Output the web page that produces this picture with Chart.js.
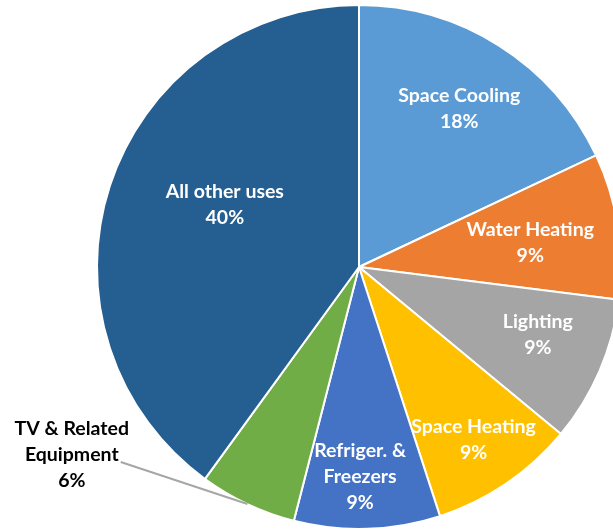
<!DOCTYPE html>
<html>
<head>
<meta charset="utf-8">
<script src="https://cdn.jsdelivr.net/npm/chart.js@4.4.0/dist/chart.umd.min.js"></script>
<style>
  html, body { margin: 0; padding: 0; background: #fff; overflow: hidden; width: 613px; height: 529px; }
  #pieChart { position: absolute; left: 0; top: 0; }
</style>
</head>
<body>
<canvas id="pieChart" width="718" height="534"></canvas>
<script>
// end uses, clockwise from 12 o'clock
const categories = [
  ['Space Cooling'],
  ['Water Heating'],
  ['Lighting'],
  ['Space Heating'],
  ['Refriger. &', 'Freezers'],
  ['TV & Related', 'Equipment'],
  ['All other uses']
]
const shares = [18, 9, 9, 9, 9, 6, 40]
const sliceColors = ['#5B9BD5', '#ED7D31', '#A5A5A5', '#FFC000', '#4472C4', '#70AD47', '#255E91']

// label spot per slice: fraction of radius, turn off the slice middle (deg), outside?
const labelSpots = [
  [0.714, 0, false],
  [0.66, 1, false],
  [0.73, -2.6, false],
  [0.79, 0.6, false],
  [0.80, 1.5, false],
  [1.31, 31.6, true],
  [0.565, 7, false]
]

const sliceLabels = {
  id: 'sliceLabels',
  afterDatasetsDraw(chart) {
    const ctx = chart.ctx
    const meta = chart.getDatasetMeta(0)
    ctx.save()
    ctx.font = 'bold 19.5px Lato'
    ctx.textAlign = 'center'
    ctx.textBaseline = 'middle'
    meta.data.forEach((arc, i) => {
      const p = arc.getProps(['x', 'y', 'startAngle', 'endAngle', 'outerRadius'], true)
      const mid = (p.startAngle + p.endAngle) / 2
      const [frac, turn, outside] = labelSpots[i]
      const a = mid + turn * Math.PI / 180
      const lx = p.x + Math.cos(a) * p.outerRadius * frac
      const ly = p.y + Math.sin(a) * p.outerRadius * frac
      const lines = categories[i].concat([shares[i] + '%'])
      const step = 26
      lines.forEach((t, k) => {
        ctx.fillStyle = outside ? '#000' : '#fff'
        ctx.fillText(t, lx, ly + (k - (lines.length - 1) / 2) * step)
      })
      if (outside) {
        // leader line from the end of the middle line to the slice edge
        const k = 1
        const w = ctx.measureText(lines[k]).width
        const sx = lx + w / 2 + 2
        const sy = ly + (k - (lines.length - 1) / 2) * step + 7
        const ex = p.x + Math.cos(mid) * p.outerRadius
        const ey = p.y + Math.sin(mid) * p.outerRadius
        ctx.strokeStyle = '#A6A6A6'
        ctx.lineWidth = 2
        ctx.beginPath()
        ctx.moveTo(sx, sy)
        ctx.lineTo(ex, ey)
        ctx.stroke()
      }
    })
    ctx.restore()
  }
}

const pieChart = new Chart(document.getElementById('pieChart'), {
  type: 'pie',
  data: {
    labels: categories.map(c => c.join(' ')),
    datasets: [{
      data: shares,
      backgroundColor: sliceColors,
      borderColor: '#fff',
      borderWidth: 2
    }]
  },
  options: {
    responsive: false,
    animation: false,
    radius: 262,
    layout: { padding: 0 },
    plugins: {
      legend: { display: false },
      tooltip: { enabled: false }
    }
  },
  plugins: [sliceLabels]
})
</script>
</body>
</html>
